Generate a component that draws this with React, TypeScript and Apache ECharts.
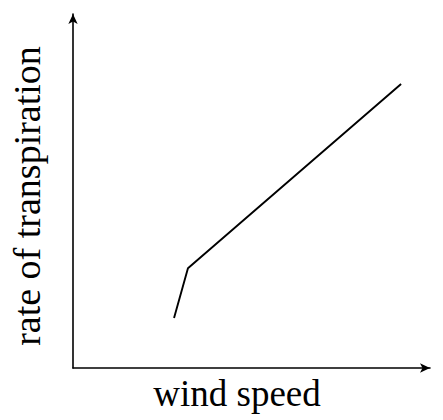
import React, { useEffect, useRef } from "react";
import * as echarts from "echarts";

const xLabel = "wind speed";
const yLabel = "rate of transpiration";
const windSpeed = [2.83, 3.22, 9.19];
const transpiration = [1.41, 2.82, 8.02];

export default function App() {
  const ref = useRef<HTMLDivElement>(null);
  useEffect(() => {
    const chart = echarts.init(ref.current!, null, { renderer: "svg" });
    const font = "Liberation Serif";
    chart.setOption({
      animation: false,
      grid: { left: 73, right: 13, top: 14, bottom: 52 },
      xAxis: {
        type: "value",
        min: 0,
        max: 10,
        axisLine: { show: true, symbol: ["none", "arrow"], symbolSize: [7, 10], lineStyle: { color: "#000", width: 1.6 } },
        axisTick: { show: false },
        axisLabel: { show: false },
        splitLine: { show: false },
      },
      yAxis: {
        type: "value",
        min: 0,
        max: 10,
        axisLine: { show: true, symbol: ["none", "arrow"], symbolSize: [7, 10], lineStyle: { color: "#000", width: 1.6 } },
        axisTick: { show: false },
        axisLabel: { show: false },
        splitLine: { show: false },
      },
      graphic: [
        {
          type: "text",
          x: 237,
          y: 393.5,
          style: { text: xLabel, fontFamily: font, fontSize: 37, fill: "#000", align: "center", verticalAlign: "middle" },
        },
        {
          type: "text",
          x: 27,
          y: 196,
          rotation: Math.PI / 2,
          style: { text: yLabel, fontFamily: font, fontSize: 38, fill: "#000", align: "center", verticalAlign: "middle" },
        },
      ],
      series: [
        {
          type: "line",
          data: windSpeed.map((x, i) => [x, transpiration[i]]),
          showSymbol: false,
          lineStyle: { color: "#000", width: 1.9 },
        },
      ],
    });
    return () => chart.dispose();
  }, []);
  return <div ref={ref} style={{ width: 443, height: 420, position: "absolute", left: 0, top: 0 }} />;
}
